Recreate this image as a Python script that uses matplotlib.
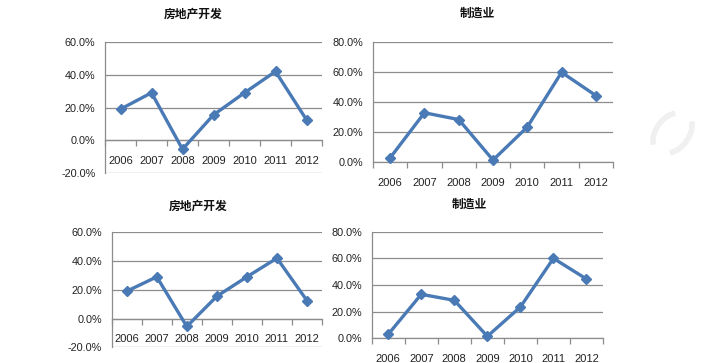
import matplotlib
matplotlib.use("Agg")
import matplotlib.pyplot as plt
from matplotlib.patches import Arc

years = ["2006", "2007", "2008", "2009", "2010", "2011", "2012"]
real_estate = [19.0, 29.0, -5.5, 15.5, 29.0, 42.0, 12.5]
manufacturing = [3.0, 33.0, 28.5, 1.5, 23.5, 60.0, 44.5]
title_re = "房地产开发"
title_mf = "制造业"
yticks_re = [-20, 0, 20, 40, 60]
yticks_mf = [0, 20, 40, 60, 80]

W, H = 708, 363
LINE = "#4a7ab5"
GRID = "#8c8c8c"
NUM_FONT = ["Liberation Sans", "DejaVu Sans"]
CJK_FONT = ["Noto Sans CJK SC", "DejaVu Sans"]

fig = plt.figure(figsize=(W / 100, H / 100), dpi=100)
fig.patch.set_facecolor("white")


def make_axes(left, right, top, bottom):
    return fig.add_axes([left / W, 1 - bottom / H, (right - left) / W, (bottom - top) / H])


def draw(ax, values, yticks, title, tx, ty):
    x = list(range(len(years)))
    ax.set_xlim(-0.5, len(years) - 0.5)
    ax.set_ylim(yticks[0], yticks[-1])
    ax.set_yticks(yticks)
    ax.set_yticklabels([f"{v:.1f}%" for v in yticks], fontsize=7.8, family=NUM_FONT, color="#222222")
    ax.tick_params(axis="y", length=0, pad=7)
    for v in yticks:
        ax.axhline(v, color=GRID, lw=0.9, zorder=1)
    ax.spines["top"].set_visible(False)
    ax.spines["right"].set_visible(False)
    ax.spines["left"].set_color(GRID)
    ax.spines["left"].set_linewidth(0.9)
    ax.spines["bottom"].set_color(GRID)
    ax.spines["bottom"].set_linewidth(0.9)
    ax.spines["bottom"].set_position(("data", 0))
    ax.set_xticks([i - 0.5 for i in range(len(years) + 1)])
    ax.set_xticklabels([""] * (len(years) + 1))
    ax.set_xticks(x, minor=True)
    ax.set_xticklabels(years, minor=True, fontsize=8, family=NUM_FONT, color="#222222")
    ax.tick_params(axis="x", which="major", length=4, color=GRID, width=0.9, direction="out")
    ax.tick_params(axis="x", which="minor", length=0, pad=11)
    ax.plot(x, values, color=LINE, lw=2.4, marker="D", markersize=5.5,
            markerfacecolor=LINE, markeredgecolor=LINE, zorder=3, clip_on=False)
    fig.text(tx / W, 1 - ty / H, title, ha="center", va="center", fontsize=8.5,
             fontweight="bold", family=CJK_FONT, color="#111111")


ax1 = make_axes(105, 322, 42, 173)
draw(ax1, real_estate, yticks_re, title_re, 193, 14)
ax2 = make_axes(373, 613, 42.3, 162.3)
draw(ax2, manufacturing, yticks_mf, title_mf, 477, 13)
ax3 = make_axes(111.7, 322, 232.3, 347.3)
draw(ax3, real_estate, yticks_re, title_re, 198, 205.7)
ax4 = make_axes(371.7, 603, 231.7, 338.3)
draw(ax4, manufacturing, yticks_mf, title_mf, 469, 204)

# faint watermark logo
wm = fig.add_axes([645 / W, 1 - 160 / H, 55 / W, 55 / H])
wm.set_xlim(0, 55)
wm.set_ylim(0, 55)
wm.axis("off")
wm.add_patch(Arc((25, 27), 28, 44, angle=-35, theta1=110, theta2=250, color="#f0f0f0", lw=4))
wm.add_patch(Arc((30, 27), 28, 44, angle=-35, theta1=290, theta2=70, color="#f0f0f0", lw=4))

fig.savefig("out.png", dpi=100, facecolor="white")
